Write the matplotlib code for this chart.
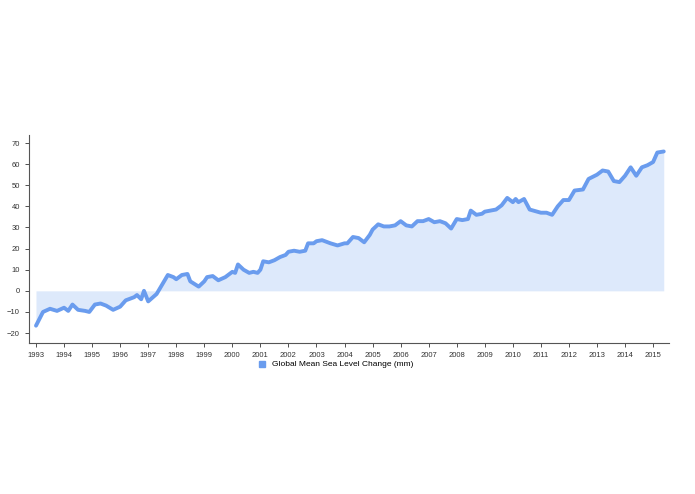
"""Global mean sea level change, 1993-2015
"""
import matplotlib.pyplot as plt
import matplotlib.lines as mlines

plt.rcParams['font.family'] = ['Liberation Sans', 'DejaVu Sans']

years = [1993.0, 1993.25, 1993.5, 1993.75,
         1994.0, 1994.15, 1994.3, 1994.5, 1994.75, 1994.9,
         1995.1, 1995.3, 1995.5, 1995.75,
         1996.0, 1996.2, 1996.5, 1996.6, 1996.75, 1996.85,
         1997.0, 1997.3, 1997.5, 1997.7, 1997.9,
         1998.0, 1998.2, 1998.4, 1998.5, 1998.8,
         1999.0, 1999.1, 1999.3, 1999.5, 1999.75,
         2000.0, 2000.1, 2000.2, 2000.4, 2000.6, 2000.75, 2000.9,
         2001.0, 2001.1, 2001.3, 2001.5, 2001.7, 2001.9,
         2002.0, 2002.2, 2002.4, 2002.6, 2002.7, 2002.9,
         2003.0, 2003.2, 2003.5, 2003.75,
         2004.0, 2004.1, 2004.3, 2004.5, 2004.7, 2004.9,
         2005.0, 2005.2, 2005.4, 2005.6, 2005.8,
         2006.0, 2006.2, 2006.4, 2006.6, 2006.8,
         2007.0, 2007.2, 2007.4, 2007.6, 2007.8,
         2008.0, 2008.2, 2008.4, 2008.5, 2008.7, 2008.9,
         2009.0, 2009.2, 2009.4, 2009.6, 2009.8,
         2010.0, 2010.1, 2010.2, 2010.4, 2010.6,
         2011.0, 2011.2, 2011.4, 2011.6, 2011.8,
         2012.0, 2012.2, 2012.5, 2012.7,
         2013.0, 2013.2, 2013.4, 2013.6, 2013.8,
         2014.0, 2014.2, 2014.4, 2014.6, 2014.8,
         2015.0, 2015.15, 2015.38]
gmsl = [-16.5, -10, -8.5, -9.5,
        -8, -9.5, -6.5, -9, -9.5, -10,
        -6.5, -6, -7, -9,
        -7.5, -4.5, -3, -2, -4, 0,
        -5, -1.5, 3, 7.5, 6.5,
        5.5, 7.5, 8, 4.5, 2,
        4.5, 6.5, 7, 5, 6.5,
        9, 8.5, 12.5, 10, 8.5, 9, 8.5,
        10, 14, 13.5, 14.5, 16, 17,
        18.5, 19, 18.5, 19, 22.5, 22.5,
        23.5, 24, 22.5, 21.5,
        22.5, 22.5, 25.5, 25, 23, 26.5,
        29, 31.5, 30.5, 30.5, 31,
        33, 31, 30.5, 33, 33,
        34, 32.5, 33, 32, 29.5,
        34, 33.5, 34, 38, 36, 36.5,
        37.5, 38, 38.5, 40.5, 44,
        42, 43.5, 42, 43.5, 38.5,
        37, 37, 36, 40, 43,
        43, 47.5, 48, 53,
        55, 57, 56.5, 52, 51.5,
        54.5, 58.5, 54.5, 58.5, 59.5,
        61, 65.5, 66]

fig = plt.figure(figsize=(6.95, 4.94), dpi=100)
ax = fig.add_axes([0.0417, 0.3057, 0.921, 0.421])

ax.fill_between(years, 0, gmsl, color='#dde9fb', linewidth=0)
ax.plot(years, gmsl, color='#6a9cee', linewidth=2.8, solid_capstyle='round')

ax.set_xlim(1992.75, 2015.57)
ax.set_ylim(-24.7, 73.8)
ax.set_xticks(range(1993, 2016))
ax.set_yticks(range(-20, 71, 10))
ax.tick_params(labelsize=5.5, length=3, width=0.6, colors='#333333')
for side in ('top', 'right'):
    ax.spines[side].set_visible(False)
for side in ('left', 'bottom'):
    ax.spines[side].set_color('#555555')
    ax.spines[side].set_linewidth(0.8)

handle = mlines.Line2D([], [], marker='s', linestyle='none', markersize=5,
                       color='#6a9cee', label='Global Mean Sea Level Change (mm)')
fig.legend(handles=[handle], loc='center', bbox_to_anchor=(0.48, 0.262),
           frameon=False, fontsize=6, handletextpad=0.2)

plt.savefig('out.png')
